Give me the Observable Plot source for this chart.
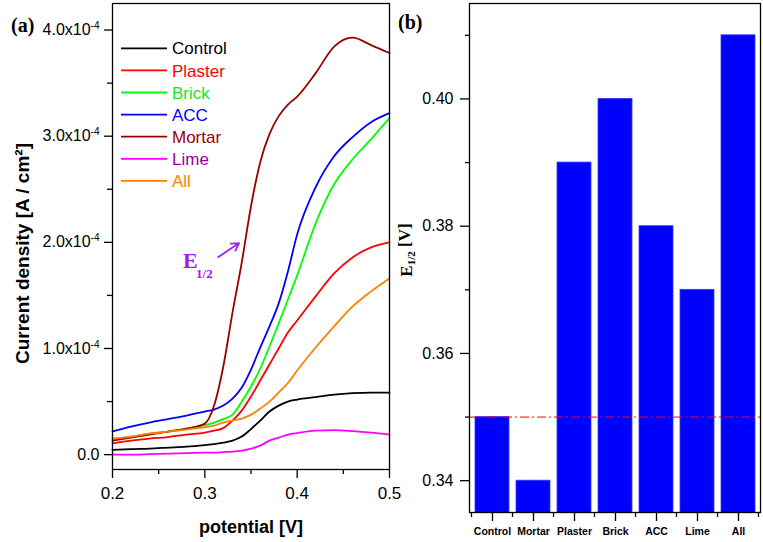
<!DOCTYPE html>
<html><head><meta charset="utf-8">
<script src="https://cdn.jsdelivr.net/npm/d3@7"></script>
<script src="https://cdn.jsdelivr.net/npm/@observablehq/plot@0.6"></script>
<style>
body{margin:0;background:#fff;}
#wrap{display:flex;width:763px;height:542px;background:#fff;}
#wrap svg{display:block;}
</style></head><body><div id="wrap"></div>
<script>
// ---------- Panel (a): LSV curves, current density in units of 1e-4 A/cm² ----------
const potential = [0.20,0.22,0.24,0.26,0.28,0.30,0.31,0.32,0.33,0.34,0.35,0.36,0.37,0.38,0.39,0.40,0.42,0.44,0.46,0.48,0.50];
const seriesNames = ["Control","Plaster","Brick","ACC","Mortar","Lime","All"];
const seriesColors = ["#000000","#ff0000","#00ff00","#0000ff","#990000","#ff00ff","#ff8000"];
const legendTextColors = ["#000000","#ff0000","#1ee01e","#0000ff","#990000","#990099","#ff8000"];
const controlJ = [0.044,0.052,0.057,0.066,0.075,0.090,0.099,0.113,0.132,0.170,0.241,0.321,0.406,0.462,0.500,0.519,0.542,0.566,0.580,0.585,0.585];
const plasterJ = [0.107,0.132,0.151,0.165,0.189,0.208,0.226,0.250,0.321,0.415,0.547,0.698,0.849,1.000,1.151,1.264,1.491,1.708,1.858,1.953,2.000];
const brickJ   = [0.151,0.170,0.198,0.217,0.245,0.278,0.302,0.335,0.377,0.500,0.642,0.811,1.019,1.236,1.462,1.689,2.179,2.547,2.783,2.972,3.170];
const accJ     = [0.220,0.264,0.302,0.335,0.368,0.406,0.425,0.462,0.528,0.632,0.802,1.009,1.208,1.425,1.726,2.075,2.519,2.811,2.991,3.132,3.217];
const mortarJ  = [0.132,0.160,0.189,0.217,0.245,0.292,0.462,0.830,1.340,1.811,2.340,2.755,3.019,3.189,3.297,3.373,3.594,3.844,3.929,3.858,3.783];
const limeJ    = [0.000,0.000,0.005,0.009,0.014,0.019,0.019,0.024,0.028,0.038,0.057,0.085,0.132,0.160,0.189,0.203,0.226,0.231,0.222,0.208,0.189];
const allJ     = [0.151,0.170,0.198,0.217,0.236,0.259,0.274,0.302,0.321,0.340,0.377,0.434,0.500,0.585,0.675,0.792,1.009,1.208,1.396,1.538,1.660];
const seriesValues = [controlJ, plasterJ, brickJ, accJ, mortarJ, limeJ, allJ];
const xTicksMajor = [0.2,0.3,0.4,0.5];
const xTicksMinor = [0.25,0.35,0.45];
const yTicksMajor = [0,1,2,3,4];
const yTicksMinor = [0.5,1.5,2.5,3.5];
const annColor = "#a020f0";
const e12Arrow = [{x1:0.3146, y1:1.861, x2:0.3371, y2:1.993}];
const e12Main = [{x:0.2764, y:1.825, t:"E"}];
const e12Sub = [{x:0.2995, y:1.708, t:"1/2"}];

// ---------- Panel (b): half-wave potentials ----------
const barCategories = ["Control","Mortar","Plaster","Brick","ACC","Lime","All"];
const barValues = [0.35,0.34,0.39,0.40,0.38,0.37,0.41];
const refLevel = [0.35];
const e12Ticks = [0.34,0.36,0.38,0.40];
const e12Minor = [0.35,0.37,0.39,0.41];

const SANS = "Arial, 'Liberation Sans', sans-serif";
const SERIF = "'Times New Roman', 'Liberation Serif', serif";

const rows = seriesNames.flatMap((s,i) => potential.map((p,k) => ({series:s, potential:p, j:seriesValues[i][k]})));
const bars = barCategories.map((c,i) => ({cat:c, val:barValues[i]}));

const left = Plot.plot({
  width:395, height:542, marginLeft:112, marginRight:6, marginTop:3, marginBottom:73,
  style:{fontFamily:SANS, background:"white", color:"black", overflow:"visible"},
  x:{domain:[0.2,0.5]},
  y:{domain:[-0.14,4.25]},
  color:{domain:seriesNames, range:seriesColors},
  marks:[
    Plot.line(rows, {x:"potential", y:"j", z:"series", stroke:"series", strokeWidth:1.8, curve:"monotone-x"}),
    Plot.frame({stroke:"black", strokeWidth:1.3}),
    Plot.axisX({ticks:xTicksMajor, tickSize:9, tickPadding:8, fontSize:17, tickFormat:d=>d.toFixed(1), label:null, strokeWidth:1.3}),
    Plot.axisX({ticks:xTicksMinor, tickSize:5, tickFormat:()=>"", label:null, strokeWidth:1.3}),
    Plot.axisY({ticks:yTicksMajor, tickSize:8, tickPadding:5, fontSize:16, tickFormat:d=>d===0?"0.0":d.toFixed(1)+"x10^-4", label:null, strokeWidth:1.3}),
    Plot.axisY({ticks:yTicksMinor, tickSize:5, tickFormat:()=>"", label:null, strokeWidth:1.3}),
    Plot.text(["potential [V]"], {frameAnchor:"bottom", lineAnchor:"middle", textAnchor:"middle", dy:58, fontSize:18, fontWeight:"bold"}),
    Plot.text(["Current density [A / cm²]"], {frameAnchor:"left", textAnchor:"middle", lineAnchor:"middle", rotate:-90, dx:-90, dy:17, fontSize:19, fontWeight:"bold"}),
    Plot.arrow(e12Arrow, {x1:"x1", y1:"y1", x2:"x2", y2:"y2", stroke:annColor, strokeWidth:1.8, headLength:7}),
    Plot.text(e12Main, {x:"x", y:"y", text:"t", textAnchor:"start", fontFamily:SERIF, fontWeight:"bold", fontSize:22, fill:annColor}),
    Plot.text(e12Sub, {x:"x", y:"y", text:"t", fontFamily:SERIF, fontWeight:"bold", fontSize:13, fill:annColor})
  ]
});

// superscript exponents in tick labels
d3.select(left).selectAll("text").each(function(){
  const t = this.textContent;
  if (t.includes("^")) {
    const [a,b] = t.split("^");
    const s = d3.select(this);
    s.text(a);
    s.append("tspan").attr("dy","-0.6em").attr("font-size","10px").text(b);
  }
});

// legend
const lg = d3.select(left).append("g").attr("font-family", SANS).attr("font-size", 17).attr("text-anchor","start");
seriesNames.forEach((s,i) => {
  const y = 48.3 + 22.1*i;
  lg.append("line").attr("x1",121).attr("x2",167).attr("y1",y).attr("y2",y)
    .attr("stroke",seriesColors[i]).attr("stroke-width",1.8);
  lg.append("text").attr("x",172).attr("y",y).attr("dy","0.36em").attr("text-anchor","start").attr("fill",legendTextColors[i]).text(s);
});
d3.select(left).append("text").attr("x",11).attr("y",32).attr("text-anchor","start").attr("font-family",SERIF)
  .attr("font-weight","bold").attr("font-size",20).text("(a)");

const right = Plot.plot({
  width:368, height:542, marginLeft:74, marginRight:3, marginTop:3, marginBottom:30,
  style:{fontFamily:SANS, background:"transparent", color:"black", overflow:"visible"},
  x:{type:"band", domain:barCategories, paddingInner:0.18, paddingOuter:0.096, align:0.5},
  y:{domain:[0.335,0.415]},
  marks:[
    Plot.barY(bars, {x:"cat", y:"val", fill:"#0000ff", stroke:"#3a3aff", strokeWidth:0.8, clip:true}),
    Plot.ruleY(refLevel, {stroke:"#ff0000", strokeDasharray:"9,3,2,3", strokeWidth:1}),
    Plot.frame({stroke:"black", strokeWidth:1.3}),
    Plot.axisY({ticks:e12Ticks, tickSize:9, tickPadding:7, fontSize:16, tickFormat:d=>d.toFixed(2), label:null, strokeWidth:1.3}),
    Plot.axisY({ticks:e12Minor, tickSize:4, tickFormat:()=>"", label:null, strokeWidth:1.3}),
    Plot.axisX({tickSize:9, tickPadding:6, fontSize:10.5, fontWeight:"bold", label:null, strokeWidth:1.3})
  ]
});

// minor ticks at band boundaries
const xs = right.scale("x");
const bottomY = 542 - 30;
const bounds = barCategories.map(c => xs.apply(c) + xs.bandwidth/2 - xs.step/2);
bounds.push(xs.apply(barCategories[barCategories.length-1]) + xs.bandwidth/2 + xs.step/2);
const mg = d3.select(right).append("g").attr("stroke","black").attr("stroke-width",1.3);
bounds.forEach(b => mg.append("line").attr("x1",b).attr("x2",b).attr("y1",bottomY).attr("y2",bottomY+5));

const el = d3.select(right).append("text").attr("transform","translate(17,250) rotate(-90)")
  .attr("text-anchor","middle").attr("font-family",SERIF).attr("font-weight","bold").attr("font-size",17);
el.append("tspan").text("E");
el.append("tspan").attr("dy","0.3em").attr("font-size",11).text("1/2");
el.append("tspan").attr("dy","-0.3em").text(" [V]");
d3.select(right).append("text").attr("x",3).attr("y",29).attr("text-anchor","start").attr("font-family",SERIF)
  .attr("font-weight","bold").attr("font-size",20).text("(b)");

document.getElementById("wrap").append(left, right);
</script></body></html>
